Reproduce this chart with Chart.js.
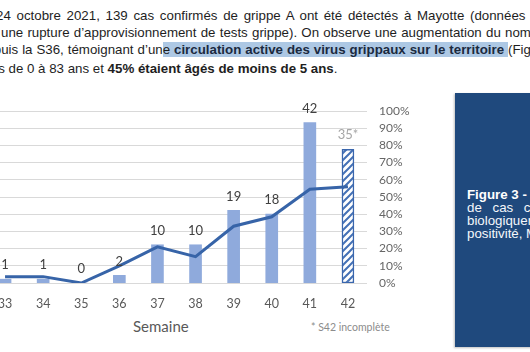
<!DOCTYPE html>
<html lang="fr">
<head>
<meta charset="utf-8">
<title>Grippe Mayotte - Figure 3</title>
<script src="https://cdn.jsdelivr.net/npm/chart.js@4.4.0/dist/chart.umd.min.js"></script>
<style>
  html, body { margin: 0; padding: 0; width: 530px; height: 352px; overflow: hidden; background: #fff; }
  body { position: relative; font-family: "Liberation Sans", Arial, sans-serif; color: #1e1e1e; }
  .line { position: absolute; font-size: 13.3px; line-height: 1; white-space: nowrap; }
  .hl { background: #adc8e4; }
  .hl b { color: #1b2a3f; }
  #chartBox { position: absolute; left: -14px; top: 90px; }
  .axisTitle { position: absolute; font-family: Lato, sans-serif; color: #595959; white-space: nowrap; }
  #figBox { position: absolute; left: 455px; top: 93px; width: 90px; height: 254px; background: #1f497d;
            box-shadow: -1px 1px 2px rgba(0,0,0,0.25); }
  .figLine { position: absolute; left: 12px; font-size: 13.3px; line-height: 1; color: #f4f7fb; white-space: nowrap; }
</style>
</head>
<body>

<div class="line" id="l1" style="left:-4px; top:9px;">24 octobre 2021, 139 cas confirmés de grippe A ont été détectés à Mayotte <span class="anchor">(données</span></div>
<div class="line" id="l2" style="left:1px; top:26px;">une rupture d’approvisionnement de tests grippe). On observe une augmentation du <span class="anchor">nombre</span></div>
<div class="line" id="l3" style="left:-21px; top:43px;">depuis la S36, témoignant d’un<span class="hl">e <b>circulation active des virus grippaux sur le territoire</b> </span><span class="anchor">(Figure</span></div>
<div class="line" id="l4" style="left:-24px; top:62px;">âgés de 0 à 83 ans et <b>45% étaient âgés de moins de 5 ans</b>.</div>

<div id="chartBox"><canvas id="fluChart" width="431" height="223"></canvas></div>
<div class="axisTitle" style="left:133px; top:317px; font-size:15px;">Semaine</div>
<div class="axisTitle" style="left:311px; top:321px; font-size:10.5px; color:#8c8c8c;">* S42 incomplète</div>

<div id="figBox">
  <div class="figLine" style="top:95px; font-weight:bold; color:#fff;">Figure 3 - Nombre</div>
  <div class="figLine" style="top:108px; word-spacing:7px;">de cas confirmés</div>
  <div class="figLine" style="top:121px;">biologiquement</div>
  <div class="figLine" style="top:134px;">positivité, Mayotte</div>
</div>

<script>
// Semaines, nombre de cas confirmés (axe gauche) et taux de positivité (axe droit, %)
const weeks = ['33', '34', '35', '36', '37', '38', '39', '40', '41', '42'];
const cases = [1, 1, 0, 2, 10, 10, 19, 18, 42, 35];
const positivity = [3.7, 3.7, 0, 10, 21, 15.3, 33, 38.5, 54.5, 56];
const incompleteWeeks = ['42'];

// Justifie les lignes du paragraphe : le mot "anchor" doit tomber sur x voulu
function fitLine(id, anchorX) {
    const el = document.getElementById(id);
    const anchor = el.querySelector('.anchor');
    const range = document.createRange();
    range.setStart(el, 0);
    range.setEndBefore(anchor);
    const spaces = (range.toString().match(/ /g) || []).length;
    const cur = anchor.getBoundingClientRect().left;
    el.style.wordSpacing = ((anchorX - cur) / spaces) + 'px';
}
fitLine('l1', 470);
fitLine('l2', 505);
fitLine('l3', 508);

// Motif hachuré pour la semaine incomplète
function hatchPattern() {
    const c = document.createElement('canvas');
    c.width = 7; c.height = 7;
    const g = c.getContext('2d');
    g.fillStyle = '#ffffff';
    g.fillRect(0, 0, 7, 7);
    g.strokeStyle = '#4471b6';
    g.lineWidth = 2;
    g.beginPath();
    g.moveTo(0, 7); g.lineTo(7, 0);
    g.moveTo(-1, 1); g.lineTo(1, -1);
    g.moveTo(6, 8); g.lineTo(8, 6);
    g.stroke();
    return g.createPattern(c, 'repeat');
}
const hatch = hatchPattern();

// Étiquettes de valeurs au-dessus des barres
const valueLabels = {
    id: 'valueLabels',
    afterDatasetsDraw(chart) {
        const meta = chart.getDatasetMeta(1);
        const ctx = chart.ctx;
        ctx.save();
        ctx.font = '13px Lato';
        ctx.textAlign = 'center';
        ctx.textBaseline = 'middle';
        meta.data.forEach((bar, i) => {
            const partial = incompleteWeeks.includes(weeks[i]);
            ctx.fillStyle = partial ? '#a6a6a6' : '#404040';
            ctx.fillText(cases[i] + (partial ? '*' : ''), bar.x, bar.y - 14);
        });
        ctx.restore();
    }
};

const ctx = document.getElementById('fluChart').getContext('2d');
new Chart(ctx, {
    type: 'bar',
    data: {
        labels: weeks,
        datasets: [
            {
                type: 'line',
                label: 'Taux de positivité',
                data: positivity,
                yAxisID: 'y1',
                borderColor: '#3764a8',
                borderWidth: 3,
                pointRadius: 0,
                tension: 0,
                fill: false,
                order: 0
            },
            {
                label: 'Cas confirmés',
                data: cases,
                yAxisID: 'y',
                backgroundColor: weeks.map(w => incompleteWeeks.includes(w) ? hatch : '#8faadc'),
                borderColor: weeks.map(w => incompleteWeeks.includes(w) ? '#3a66ad' : '#8faadc'),
                borderWidth: weeks.map(w => incompleteWeeks.includes(w) ? 1.5 : 0),
                borderSkipped: false,
                barThickness: 12,
                order: 1
            }
        ]
    },
    options: {
        responsive: false,
        animation: false,
        devicePixelRatio: 1,
        layout: { padding: { top: 21, left: 0, right: 0, bottom: 0 } },
        plugins: {
            legend: { display: false },
            tooltip: { enabled: false }
        },
        scales: {
            x: {
                offset: true,
                grid: { display: false },
                border: { display: false },
                ticks: {
                    color: '#595959',
                    font: { family: 'Lato', size: 12.5 },
                    padding: 5
                },
                afterFit: function(scale) { scale.height = 30; }
            },
            y: {
                display: false,
                min: 0,
                max: 45
            },
            y1: {
                position: 'right',
                min: 0,
                max: 100,
                grid: { color: '#d9d9d9', drawTicks: false },
                border: { display: false },
                ticks: {
                    stepSize: 10,
                    autoSkip: false,
                    padding: 12,
                    color: '#666666',
                    font: { family: 'Lato', size: 12 },
                    callback: function(value) { return value + '%'; }
                },
                afterFit: function(scale) { scale.width = 50; }
            }
        }
    },
    plugins: [valueLabels]
});
</script>
</body>
</html>
